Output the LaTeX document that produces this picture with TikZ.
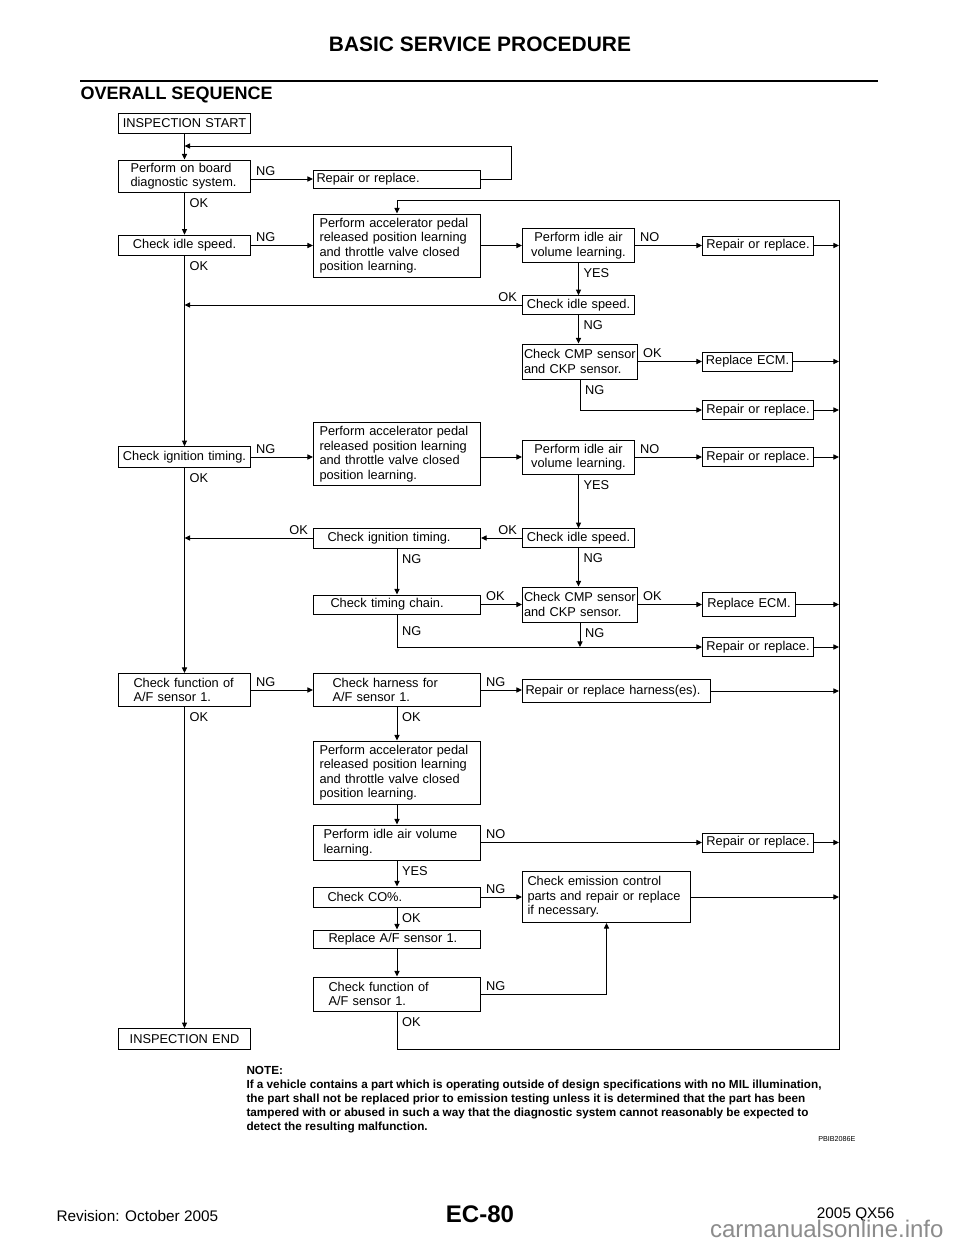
\documentclass[tikz,border=0pt]{standalone}
\usepackage{fontspec}
\setmainfont{Liberation Sans}
\usepackage{tikz}
\usetikzlibrary{arrows.meta}

\newcommand{\boxfont}{\fontsize{9.6}{10.9}\selectfont}

\begin{document}
\begin{tikzpicture}[
  x=0.75pt, y=-0.75pt,
  line width=0.75pt,
  >={Triangle[length=4.2pt,width=3.8pt]},
  box/.style={draw, anchor=west, font=\boxfont, inner ysep=0pt},
  bx/.style n args={3}{box, text width=#1, inner xsep=#2, minimum height=#3},
  leftbox/.style={bx={96pt}{1.5pt}{15.5pt}, align=center},
  pedalbox/.style={bx={116.25pt}{4.5pt}{47.25pt}, align=left},
  airbox/.style={bx={81pt}{1.5pt}{25.5pt}, align=center},
  idlebox/.style={bx={81pt}{1.5pt}{14pt}, align=center},
  repbox/.style={bx={80.25pt}{1.5pt}{14.25pt}, align=center},
  cmpbox/.style={bx={84pt}{1.125pt}{26.25pt}, align=left},
  ecmbox/.style={bx={64.5pt}{1.5pt}{14.25pt}, align=center},
  hl/.style={font=\boxfont, inner xsep=3.5pt, inner ysep=2.5pt, pos=0},
  vl/.style={font=\boxfont, inner xsep=3.5pt, inner ysep=3.8pt, pos=0, below right}
  ]

\fill[white] (0,0) rectangle (960,1242);
\useasboundingbox (0,0) rectangle (960,1242);

\node[font=\bfseries\fontsize{15.7}{18}\selectfont] (title) at (480,44) {BASIC SERVICE PROCEDURE};
\draw[line width=2.2pt] (80,81) -- (878,81);
\node[anchor=west, inner sep=0pt, font=\bfseries\fontsize{13.5}{16}\selectfont] (sec) at (80,95) {OVERALL SEQUENCE};

\node[leftbox] (start) at (118,123.5) {INSPECTION START};
\node[bx={81pt}{9pt}{24pt}, align=left] (diag) at (118,176) {Perform on board\\diagnostic system.};
\node[bx={120.75pt}{2.25pt}{13.5pt}, align=left] (rep1) at (313,179) {Repair or replace.};

\node[leftbox] (idle1) at (118,245.5) {Check idle speed.};
\node[pedalbox] (pedal1) at (313,245.5) {Perform accelerator pedal\\released position learning\\and throttle valve closed\\position learning.};
\node[airbox] (air1) at (522,245.5) {Perform idle air\\volume learning.};
\node[repbox] (rep2) at (702,245.5) {Repair or replace.};
\node[idlebox] (idle2) at (522,305) {Check idle speed.};
\node[cmpbox] (cmp1) at (522,361.5) {Check CMP sensor\\and CKP sensor.};
\node[ecmbox] (ecm1) at (702,361.5) {Replace ECM.};
\node[repbox] (rep3) at (702,410) {Repair or replace.};

\node[leftbox] (ign1) at (118,457) {Check ignition timing.};
\node[pedalbox] (pedal2) at (313,454) {Perform accelerator pedal\\released position learning\\and throttle valve closed\\position learning.};
\node[airbox] (air2) at (522,457) {Perform idle air\\volume learning.};
\node[repbox] (rep4) at (702,457) {Repair or replace.};
\node[idlebox] (idle3) at (522,538) {Check idle speed.};
\node[bx={104.25pt}{10.5pt}{15pt}, align=left] (ign2) at (313,538) {Check ignition timing.};
\node[bx={99.75pt}{12.75pt}{14.25pt}, align=left] (chain) at (313,604.5) {Check timing chain.};
\node[cmpbox] (cmp2) at (522,604.5) {Check CMP sensor\\and CKP sensor.};
\node[bx={66.75pt}{1.5pt}{18pt}, align=center] (ecm2) at (702,604.5) {Replace ECM.};
\node[repbox] (rep5) at (702,647) {Repair or replace.};

\node[bx={76.5pt}{11.25pt}{24.75pt}, align=left] (af1) at (118,690) {Check function of\\A/F sensor 1.};
\node[bx={96.75pt}{14.25pt}{24.75pt}, align=left] (harn) at (313,690) {Check harness for\\A/F sensor 1.};
\node[bx={136.5pt}{2.25pt}{17.25pt}, align=left] (rhar) at (522,691) {Repair or replace harness(es).};
\node[pedalbox] (pedal3) at (313,772.5) {Perform accelerator pedal\\released position learning\\and throttle valve closed\\position learning.};
\node[bx={110.25pt}{7.5pt}{26.25pt}, align=left] (air3) at (313,842.5) {Perform idle air volume\\learning.};
\node[repbox] (rep6) at (702,842.5) {Repair or replace.};
\node[bx={104.25pt}{10.5pt}{15pt}, align=left] (co) at (313,897) {Check CO\%.};
\node[bx={118.5pt}{3.75pt}{38.25pt}, align=left] (emis) at (522,897) {Check emission control\\parts and repair or replace\\if necessary.};
\node[bx={102.75pt}{11.25pt}{13.5pt}, align=left] (repaf) at (313,939) {Replace A/F sensor 1.};
\node[bx={102.75pt}{11.25pt}{25.5pt}, align=left] (af2) at (313,994) {Check function of\\A/F sensor 1.};
\node[leftbox] (finish) at (118,1039) {INSPECTION END};

\coordinate (loop) at (511,146);
\coordinate (rt) at (839,200);
\coordinate (rb) at (839,1049);

\draw[->] (start) -- (diag);
\draw[->] (rep1.east) -| (loop) -- (loop -| start);
\draw[->] (diag.east |- rep1) -- node[hl, above right] {NG} (rep1.west);
\draw[->] (diag) -- node[vl] {OK} (idle1);
\draw[->] (idle1) -- node[hl, above right] {NG} (pedal1);
\draw[->] (idle1) -- node[vl] {OK} (ign1);
\draw[->] (pedal1) -- (air1);
\draw[->] (air1) -- node[hl, above right] {NO} (rep2);
\draw[->] (rep2) -- (rep2 -| rt);
\draw[->] (air1) -- node[vl] {YES} (idle2);
\draw[->] (idle2) -- node[hl, above left] {OK} (idle2 -| idle1);
\draw[->] (idle2) -- node[vl] {NG} (idle2 |- cmp1.north);
\draw[->] (cmp1) -- node[hl, above right] {OK} (ecm1);
\draw[->] (ecm1) -- (ecm1 -| rt);
\draw[->] (cmp1.south) |- node[vl] {NG} (rep3.west);
\draw[->] (rep3) -- (rep3 -| rt);

\draw[->] (ign1) -- node[hl, above right] {NG} (ign1 -| pedal2.west);
\draw[->] (ign1) -- node[vl] {OK} (af1);
\draw[->] (pedal2.east |- air2) -- (air2);
\draw[->] (air2) -- node[hl, above right] {NO} (rep4);
\draw[->] (rep4) -- (rep4 -| rt);
\draw[->] (air2) -- node[vl] {YES} (idle3);
\draw[->] (idle3) -- node[hl, above left] {OK} (ign2);
\draw[->] (ign2) -- node[hl, above left] {OK} (ign2 -| ign1);
\draw[->] (ign2) -- node[vl] {NG} (chain);
\draw[->] (idle3) -- node[vl] {NG} (idle3 |- cmp2.north);
\draw[->] (chain) -- node[hl, above right] {OK} (cmp2);
\draw[->] (cmp2) -- node[hl, above right] {OK} (ecm2);
\draw[->] (ecm2) -- (ecm2 -| rt);
\draw[->] (chain.south) |- node[hl, right, pos=0.25] {NG} (rep5.west);
\draw[->] (cmp2) -- node[vl] {NG} (cmp2 |- rep5);
\draw[->] (rep5) -- (rep5 -| rt);

\draw[->] (af1) -- node[hl, above right] {NG} (harn);
\draw[->] (af1) -- node[vl] {OK} (finish);
\draw[->] (harn.east) -- node[hl, above right] {NG} (harn.east -| rhar.west);
\draw[->] (rhar) -- (rhar -| rt);
\draw[->] (harn) -- node[vl] {OK} (pedal3);
\draw[->] (pedal3) -- (air3);
\draw[->] (air3) -- node[hl, above right] {NO} (rep6);
\draw[->] (rep6) -- (rep6 -| rt);
\draw[->] (air3) -- node[vl] {YES} (co);
\draw[->] (co) -- node[hl, above right] {NG} (emis);
\draw[->] (emis) -- (emis -| rt);
\draw[->] (co) -- node[vl] {OK} (repaf);
\draw[->] (repaf) -- (af2);
\draw[->] (af2) -| node[hl, above right] {NG} (emis);
\draw[->] (af2) |- node[vl] {OK} (rb) -- (rt) -| (pedal1);

\node[anchor=north west, align=left, inner sep=0pt, font=\bfseries\fontsize{8.8}{10.5}\selectfont] (note) at (246,1066) {NOTE:\\If a vehicle contains a part which is operating outside of design specifications with no MIL illumination,\\the part shall not be replaced prior to emission testing unless it is determined that the part has been\\tampered with or abused in such a way that the diagnostic system cannot reasonably be expected to\\detect the resulting malfunction.};
\node[anchor=east, inner sep=0pt, font=\fontsize{5.4}{6}\selectfont] (code) at (856,1139) {PBIB2086E};

\node[anchor=west, inner sep=0pt, font=\fontsize{11.5}{14}\selectfont] (rev) at (56,1216) {Revision: October 2005};
\node[font=\bfseries\fontsize{18}{20}\selectfont] (page) at (480,1214) {EC-80};
\node[anchor=east, inner sep=0pt, font=\fontsize{11.5}{14}\selectfont] (model) at (895,1215) {2005 QX56};
\node[anchor=east, inner sep=0pt, text=black!45, font=\fontsize{18}{20}\selectfont] (mark) at (944,1229) {carmanualsonline.info};

\end{tikzpicture}
\end{document}
